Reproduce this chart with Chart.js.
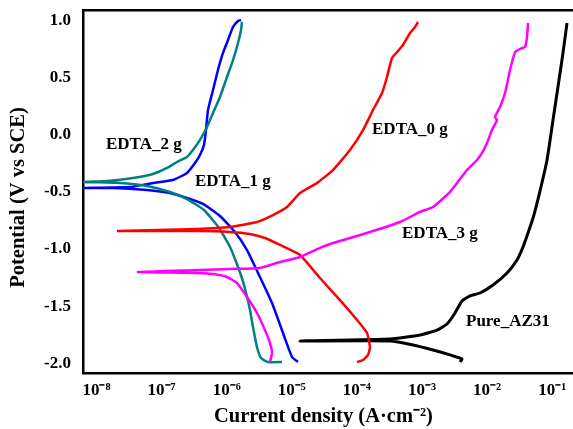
<!DOCTYPE html>
<html><head><meta charset="utf-8">
<script src="https://cdn.jsdelivr.net/npm/chart.js@4/dist/chart.umd.min.js"></script>
<style>html,body{margin:0;padding:0;background:#fff;overflow:hidden}</style>
</head><body>
<canvas id="c" width="573" height="429"></canvas>
<script>
// log10 of current density (A·cm^-2) and potential (V vs SCE)
const seriesNames = ['EDTA_3 g', 'EDTA_0 g', 'EDTA_2 g', 'EDTA_1 g', 'Pure_AZ31'];

const az31_logI = [-2.416,-2.386,-2.570,-2.831,-3.138,-3.492,-4.874,-3.492,-3.031,-2.769,-2.616,-2.493,-2.386,-2.263,-2.109,-1.909,-1.694,-1.541,-1.449,-1.372,-1.295,-1.203,-1.080,-0.988,-0.912,-0.835,-0.773];
const az31_E    = [-1.988,-1.962,-1.926,-1.883,-1.839,-1.804,-1.804,-1.787,-1.752,-1.708,-1.655,-1.559,-1.454,-1.410,-1.384,-1.314,-1.209,-1.096,-0.982,-0.859,-0.728,-0.527,-0.220,0.129,0.418,0.716,0.978];

const edta0_logI = [-3.998,-3.906,-3.829,-3.799,-3.845,-3.998,-4.260,-4.567,-4.874,-5.181,-5.412,-5.642,-5.949,-6.456,-7.685,-6.456,-5.949,-5.535,-5.289,-5.074,-4.874,-4.613,-4.367,-4.106,-3.906,-3.753,-3.614,-3.538,-3.461,-3.384,-3.292,-3.230,-3.184,-3.108,-3.061];
const edta0_E    = [-1.988,-1.970,-1.926,-1.857,-1.734,-1.620,-1.446,-1.253,-1.052,-0.964,-0.903,-0.868,-0.850,-0.842,-0.842,-0.824,-0.807,-0.763,-0.702,-0.632,-0.509,-0.421,-0.308,-0.133,0.042,0.217,0.366,0.506,0.672,0.724,0.786,0.847,0.891,0.943,0.987];

const edta1_logI = [-4.905,-4.997,-5.135,-5.304,-5.489,-5.688,-5.873,-6.103,-6.364,-6.610,-6.871,-7.224,-7.747,-8.192,-7.485,-7.132,-6.825,-6.610,-6.487,-6.410,-6.349,-6.318,-6.287,-6.210,-6.134,-6.057,-5.980,-5.903,-5.826,-5.780];
const edta1_E    = [-1.988,-1.944,-1.734,-1.472,-1.244,-1.008,-0.850,-0.710,-0.605,-0.553,-0.509,-0.483,-0.465,-0.465,-0.457,-0.421,-0.395,-0.334,-0.247,-0.177,-0.089,0.042,0.217,0.392,0.567,0.716,0.829,0.943,0.996,1.004];

const edta2_logI = [-5.150,-5.366,-5.473,-5.535,-5.596,-5.642,-5.734,-5.826,-5.949,-6.118,-6.349,-6.610,-6.871,-7.224,-7.639,-8.192,-7.839,-7.439,-7.132,-6.917,-6.763,-6.610,-6.518,-6.410,-6.302,-6.210,-6.103,-5.995,-5.903,-5.826,-5.780,-5.765];
const edta2_E    = [-1.988,-1.988,-1.953,-1.857,-1.682,-1.533,-1.314,-1.157,-0.982,-0.815,-0.658,-0.562,-0.500,-0.448,-0.421,-0.413,-0.404,-0.378,-0.343,-0.290,-0.238,-0.194,-0.133,-0.045,0.068,0.191,0.331,0.506,0.654,0.803,0.917,0.987];

const edta3_logI = [-5.335,-5.304,-5.335,-5.412,-5.535,-5.688,-5.842,-5.995,-6.210,-6.456,-7.363,-6.410,-5.949,-5.489,-5.181,-4.874,-4.567,-4.367,-3.845,-3.338,-3.031,-2.831,-2.570,-2.309,-2.155,-2.078,-2.002,-1.925,-1.848,-1.879,-1.802,-1.725,-1.648,-1.571,-1.464,-1.418,-1.387,-1.372];
const edta3_E    = [-1.988,-1.909,-1.822,-1.708,-1.559,-1.419,-1.297,-1.244,-1.218,-1.209,-1.200,-1.183,-1.174,-1.165,-1.113,-1.069,-0.990,-0.947,-0.859,-0.763,-0.675,-0.632,-0.500,-0.308,-0.220,-0.159,-0.072,0.042,0.129,0.156,0.243,0.366,0.567,0.724,0.759,0.768,0.856,0.978];

const xTickExponents = [-8, -7, -6, -5, -4, -3, -2, -1];
const xTickLabels = ['10⁻⁸', '10⁻⁷', '10⁻⁶', '10⁻⁵', '10⁻⁴', '10⁻³', '10⁻²', '10⁻¹'];
const yTickValues = [-2.0, -1.5, -1.0, -0.5, 0.0, 0.5, 1.0];
const xTitle = 'Current density (A·cm⁻²)';
const yTitle = 'Potential (V vs SCE)';

const SERIF = "'Liberation Serif', 'Times New Roman', serif";

function toPoints(logI, E) {
  return logI.map((v, i) => ({ x: Math.pow(10, v), y: E[i] }));
}

const curves = [
  { name: seriesNames[0], pts: toPoints(edta3_logI, edta3_E), color: '#ff00ff', w: 2.5 },
  { name: seriesNames[1], pts: toPoints(edta0_logI, edta0_E), color: '#ff0000', w: 2.5 },
  { name: seriesNames[2], pts: toPoints(edta2_logI, edta2_E), color: '#008080', w: 2.5 },
  { name: seriesNames[3], pts: toPoints(edta1_logI, edta1_E), color: '#0000ff', w: 2.5 },
  { name: seriesNames[4], pts: toPoints(az31_logI, az31_E), color: '#000000', w: 3 }
];

// curve labels, anchored (left edge, middle) at data coordinates
const curveLabels = [
  { text: 'EDTA_2 g', logI: -7.854, E: -0.089 },
  { text: 'EDTA_1 g', logI: -6.487, E: -0.413 },
  { text: 'EDTA_0 g', logI: -3.768, E: 0.042 },
  { text: 'EDTA_3 g', logI: -3.307, E: -0.868 },
  { text: 'Pure_AZ31', logI: -2.324, E: -1.638 }
];

const labelPlugin = {
  id: 'curveLabels',
  afterDatasetsDraw(chart) {
    const { ctx, scales } = chart;
    ctx.save();
    ctx.font = 'bold 17px ' + SERIF;
    ctx.fillStyle = '#000';
    ctx.textAlign = 'left';
    ctx.textBaseline = 'middle';
    curveLabels.forEach(l => {
      ctx.fillText(l.text, scales.x.getPixelForValue(Math.pow(10, l.logI)), scales.y.getPixelForValue(l.E));
    });
    // axis titles
    ctx.font = 'bold 20.5px ' + SERIF;
    ctx.textAlign = 'center';
    ctx.fillText(xTitle, 323.5, 417);
    ctx.translate(18.5, 197.5);
    ctx.rotate(-Math.PI / 2);
    ctx.fillText(yTitle, 0, 0);
    ctx.restore();
  }
};

new Chart(document.getElementById('c'), {
  type: 'scatter',
  data: {
    datasets: curves.map(c => ({
      label: c.name,
      data: c.pts,
      showLine: true,
      borderColor: c.color,
      backgroundColor: c.color,
      borderWidth: c.w,
      pointRadius: 0,
      tension: 0.15,
      fill: false
    }))
  },
  options: {
    responsive: false,
    animation: false,
    devicePixelRatio: 1,
    layout: { padding: { left: 0, right: 0, top: 10, bottom: 0 } },
    plugins: { legend: { display: false }, tooltip: { enabled: false } },
    scales: {
      x: {
        type: 'logarithmic',
        position: 'bottom',
        min: Math.pow(10, -8.207),
        max: Math.pow(10, -0.681),
        grid: { display: false, drawTicks: false },
        border: { display: true, color: '#000', width: 2.5 },
        afterBuildTicks: s => { s.ticks = xTickExponents.map(e => ({ value: Math.pow(10, e) })); },
        afterFit: s => { s.height = 56; s.paddingLeft = 0; s.paddingRight = 0; },
        ticks: {
          color: '#000',
          padding: 7,
          maxRotation: 0,
          autoSkip: false,
          font: { family: SERIF, size: 17, weight: 'bold' },
          callback: v => xTickLabels[xTickExponents.indexOf(Math.round(Math.log10(v)))]
        },
        title: { display: false }
      },
      x2: {
        type: 'linear',
        position: 'top',
        display: true,
        grid: { display: false, drawTicks: false },
        border: { display: true, color: '#000', width: 2.5 },
        ticks: { display: false },
        afterFit: s => { s.height = 0; s.paddingLeft = 0; s.paddingRight = 0; }
      },
      y: {
        type: 'linear',
        position: 'left',
        min: -2.084,
        max: 1.092,
        grid: { display: false, drawTicks: false },
        border: { display: true, color: '#000', width: 2.5 },
        afterBuildTicks: s => { s.ticks = yTickValues.map(v => ({ value: v })); },
        afterFit: s => { s.width = 83; s.paddingTop = 0; s.paddingBottom = 0; },
        ticks: {
          color: '#000',
          padding: 12,
          font: { family: SERIF, size: 17, weight: 'bold' },
          callback: v => Number(v).toFixed(1)
        },
        title: { display: false }
      }
    }
  },
  plugins: [labelPlugin]
});
</script>
</body></html>
